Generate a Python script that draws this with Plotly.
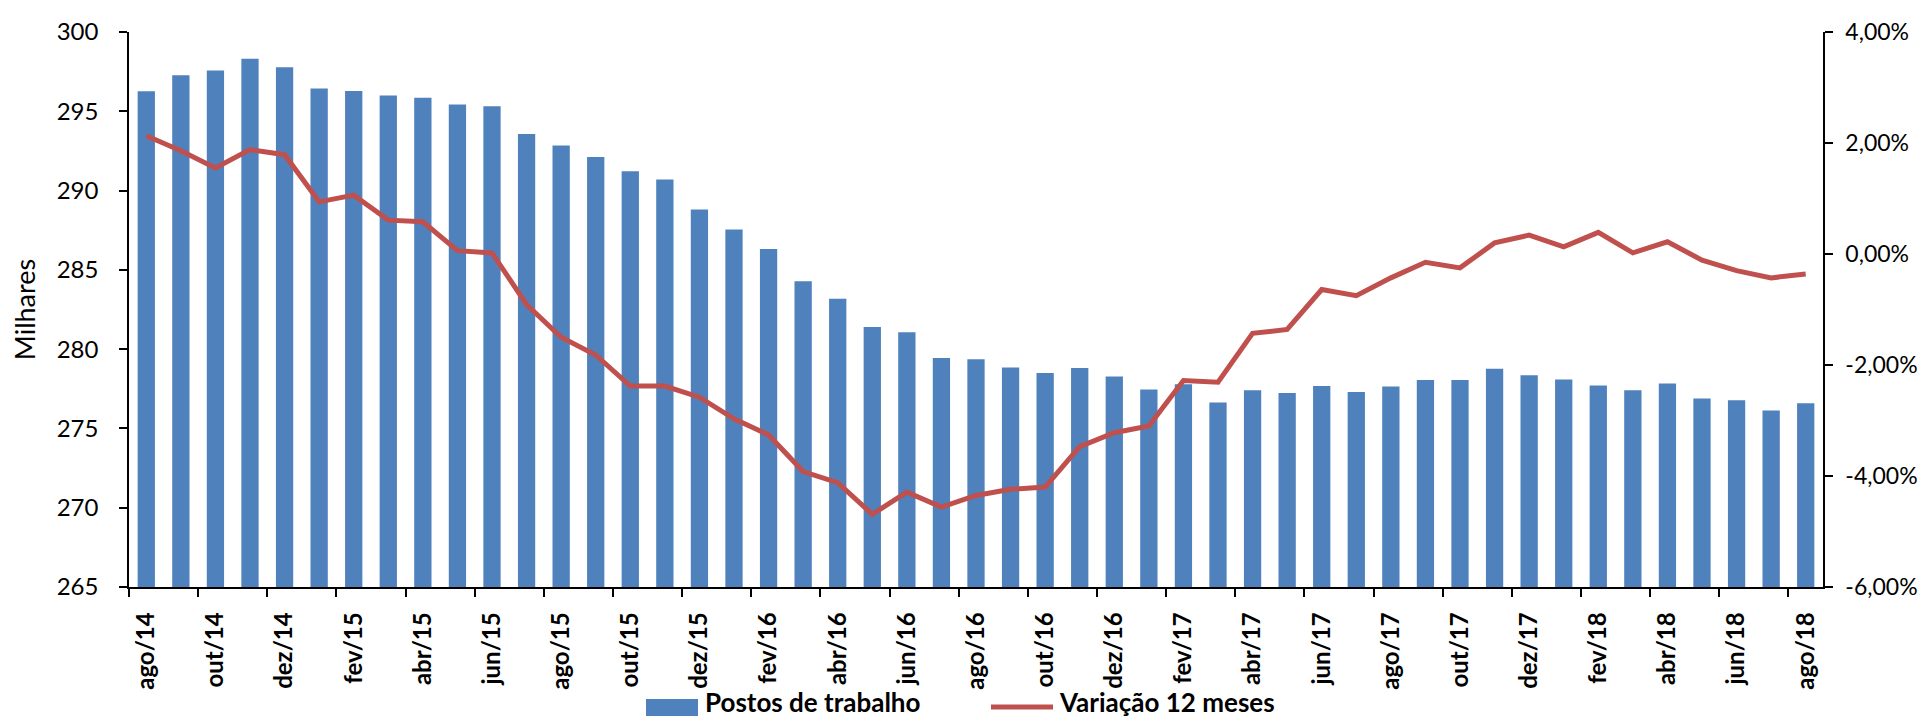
import plotly.graph_objects as go

months = ["ago/14", "set/14", "out/14", "nov/14", "dez/14",
          "jan/15", "fev/15", "mar/15", "abr/15", "mai/15", "jun/15", "jul/15",
          "ago/15", "set/15", "out/15", "nov/15", "dez/15",
          "jan/16", "fev/16", "mar/16", "abr/16", "mai/16", "jun/16", "jul/16",
          "ago/16", "set/16", "out/16", "nov/16", "dez/16",
          "jan/17", "fev/17", "mar/17", "abr/17", "mai/17", "jun/17", "jul/17",
          "ago/17", "set/17", "out/17", "nov/17", "dez/17",
          "jan/18", "fev/18", "mar/18", "abr/18", "mai/18", "jun/18", "jul/18",
          "ago/18"]

postos = [296.26, 297.27, 297.57, 298.31, 297.77,
          296.44, 296.28, 295.99, 295.86, 295.43, 295.32, 293.56,
          292.84, 292.12, 291.22, 290.70, 288.81,
          287.55, 286.31, 284.28, 283.18, 281.40, 281.06, 279.44,
          279.37, 278.85, 278.49, 278.81, 278.27,
          277.45, 277.79, 276.64, 277.41, 277.23, 277.68, 277.30,
          277.64, 278.06, 278.06, 278.76, 278.36,
          278.09, 277.70, 277.41, 277.84, 276.89, 276.78, 276.13,
          276.58]

variacao = [2.13, 1.86, 1.55, 1.88, 1.79,
            0.94, 1.06, 0.61, 0.58, 0.06, 0.02, -0.91,
            -1.50, -1.82, -2.38, -2.38, -2.58,
            -2.97, -3.26, -3.92, -4.12, -4.69, -4.29, -4.56,
            -4.35, -4.24, -4.20, -3.47, -3.22,
            -3.10, -2.28, -2.31, -1.43, -1.36, -0.64, -0.75,
            -0.43, -0.15, -0.25, 0.20, 0.34,
            0.13, 0.39, 0.02, 0.22, -0.11, -0.30, -0.43,
            -0.36]

series_names = ["Postos de trabalho", "Variação 12 meses"]
left_ticks = [265, 270, 275, 280, 285, 290, 295, 300]
right_ticks = [-6, -4, -2, 0, 2, 4]
right_labels = ["-6,00%", "-4,00%", "-2,00%", "0,00%", "2,00%", "4,00%"]

x = list(range(len(months)))
label_idx = x[::2]
label_txt = months[::2]

FONT = "Lato"
BLUE = "#4F81BD"
RED = "#C0504D"

W, H = 1927, 716
ML, MR, MT, MB = 121, 112, 24, 137
PW, PH = W - ML - MR, H - MT - MB


def px(xp):
    return (xp - ML) / PW


def py(yp):
    return (H - MB - yp) / PH


fig = go.Figure()
fig.add_trace(go.Bar(x=x, y=postos, name=series_names[0],
                     marker=dict(color=BLUE, line=dict(width=0)),
                     yaxis="y"))
fig.add_trace(go.Scatter(x=x, y=variacao, name=series_names[1],
                         mode="lines", line=dict(color=RED, width=5),
                         yaxis="y2"))

# legend drawn manually (Excel-style wide swatches)
text_y = 694
swatch_y = 699
shapes = [
    dict(type="rect", xref="paper", yref="paper",
         x0=px(638), x1=px(690), y0=py(708), y1=py(691),
         fillcolor=BLUE, line=dict(width=0)),
    dict(type="line", xref="paper", yref="paper",
         x0=px(983), x1=px(1045), y0=py(swatch_y), y1=py(swatch_y),
         line=dict(color=RED, width=5)),
]
annotations = [
    dict(text=f"<b>{series_names[0]}</b>", xref="paper", yref="paper",
         x=px(695), y=py(text_y), xanchor="left", yanchor="middle",
         showarrow=False, font=dict(family=FONT, size=26, color="black")),
    dict(text=f"<b>{series_names[1]}</b>", xref="paper", yref="paper",
         x=px(1049), y=py(text_y), xanchor="left", yanchor="middle",
         showarrow=False, font=dict(family=FONT, size=26, color="black")),
]

fig.update_layout(
    width=W, height=H,
    margin=dict(l=ML, r=MR, t=MT, b=MB),
    paper_bgcolor="white", plot_bgcolor="white",
    bargap=0.5,
    font=dict(family=FONT, size=24, color="black"),
    showlegend=False,
    shapes=shapes,
    annotations=annotations,
    xaxis=dict(range=[-0.5, len(months) - 0.5], tickmode="array",
               tickvals=label_idx, ticktext=label_txt, tickangle=-90,
               ticks="outside", ticklen=14, tickcolor="rgba(0,0,0,0)",
               showline=True, linecolor="black", linewidth=1.5,
               showgrid=False, zeroline=False, automargin=False,
               tickfont=dict(family=FONT, size=24, weight="bold"),
               minor=dict(tick0=-0.5, dtick=2, ticks="outside", ticklen=8,
                          tickcolor="black", tickwidth=1.5, showgrid=False)),
    yaxis=dict(range=[265, 300], tickmode="array", tickvals=left_ticks,
               ticks="outside", ticklen=8, tickwidth=1.5, tickcolor="black",
               ticklabelstandoff=16,
               showline=True, linecolor="black", linewidth=1.5,
               showgrid=False, zeroline=False, automargin=False,
               title=dict(text="Milhares", standoff=14,
                          font=dict(family=FONT, size=27)),
               tickfont=dict(family=FONT, size=24)),
    yaxis2=dict(range=[-6, 4], overlaying="y", side="right",
                tickmode="array", tickvals=right_ticks, ticktext=right_labels,
                ticks="outside", ticklen=8, tickwidth=1.5, tickcolor="black",
                ticklabelstandoff=8,
                showline=True, linecolor="black", linewidth=1.5,
                showgrid=False, zeroline=False, automargin=False,
                tickfont=dict(family=FONT, size=23)),
)

fig.write_html("out.html")
